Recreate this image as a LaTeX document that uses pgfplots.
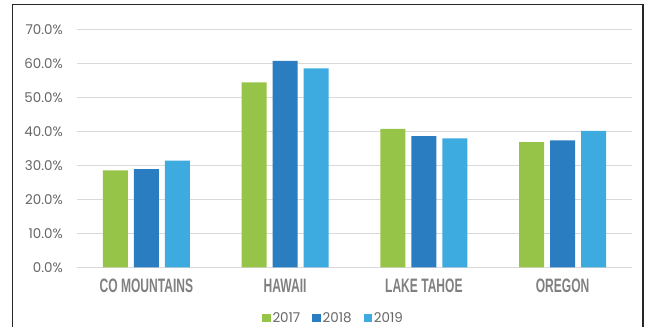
\documentclass[border=0pt]{standalone}
\usepackage{pgfplots}
\pgfplotsset{compat=1.18}
\usepackage{fontspec}
\setmainfont{Poppins}
\newfontfamily\catfont[FakeStretch=0.62]{Liberation Sans}
\definecolor{cgreen}{HTML}{96C448}
\definecolor{cdblue}{HTML}{2A7DC1}
\definecolor{clblue}{HTML}{3DAAE0}
\definecolor{gridc}{HTML}{D9D9D9}
\definecolor{tickc}{HTML}{666666}
\definecolor{catc}{HTML}{808080}
\begin{document}
\begin{tikzpicture}
\useasboundingbox (-77bp,-59.7bp) rectangle (572bp,267.3bp);
\draw[line width=1.4bp, color=black!85] (-64.5bp,-62bp) -- (-64.5bp,263bp) -- (566bp,263bp) -- (566bp,-62bp);
\begin{axis}[
  at={(0,0)}, anchor=south west,
  scale only axis, width=555bp, height=238bp,
  ybar=6bp, bar width=25bp,
  xmin=-0.5, xmax=3.5, ymin=0, ymax=70,
  xtick={0,1,2,3},
  xticklabels={CO MOUNTAINS,HAWAII,LAKE TAHOE,OREGON},
  ytick={0,10,20,30,40,50,60,70},
  major tick length=0pt,
  axis line style={draw=none},
  ymajorgrids, grid style={color=gridc, line width=1bp},
  /pgf/number format/assume math mode=true,
  yticklabel={\pgfmathprintnumber[fixed,fixed zerofill,precision=1]{\tick}\%},
  yticklabel style={font=\fontsize{13.5}{15}\selectfont, color=tickc, anchor=east, inner sep=0pt, xshift=-14bp},
  xticklabel style={font=\catfont\bfseries\fontsize{19.5}{21}\selectfont, color=catc, anchor=center, inner sep=0pt, yshift=-18.9bp},
  legend columns=3,
  legend style={at={(0.4622,-0.213)}, anchor=center, draw=none, fill=none,
    font=\fontsize{13.5}{15}\selectfont, text=tickc,
    /tikz/every even column/.append style={column sep=10bp}},
  legend image code/.code={\fill[#1] (0bp,-4.15bp) rectangle (8.3bp,4.15bp);},
  legend cell align=left,
]
\addplot[fill=cgreen, draw=none] coordinates {(0,28.5) (1,54.4) (2,40.7) (3,36.85)};
\addplot[fill=cdblue, draw=none] coordinates {(0,28.9) (1,60.7) (2,38.6) (3,37.35)};
\addplot[fill=clblue, draw=none] coordinates {(0,31.35) (1,58.5) (2,37.9) (3,40.1)};
\legend{2017,2018,2019}
\end{axis}
\end{tikzpicture}
\end{document}
